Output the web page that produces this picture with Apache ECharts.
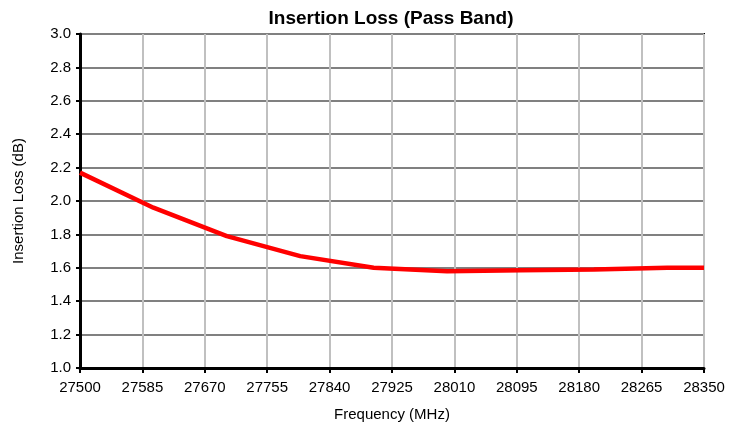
<!DOCTYPE html>
<html>
<head>
<meta charset="utf-8">
<script src="https://cdn.jsdelivr.net/npm/echarts@6/dist/echarts.min.js"></script>
<style>html,body{margin:0;padding:0;background:#fff}#c{width:740px;height:430px}</style>
</head>
<body>
<div id="c"></div>
<script>
var titleText = 'Insertion Loss (Pass Band)';
var xName = 'Frequency (MHz)';
var yName = 'Insertion Loss (dB)';
var freqStart = 27500;
var freqStep = 85;
var freqEnd = 28350;
var frequencies = [27500, 27600, 27700, 27800, 27900, 28000, 28100, 28200, 28300, 28350];
var insertionLoss = [2.17, 1.96, 1.79, 1.67, 1.60, 1.58, 1.585, 1.59, 1.60, 1.60];

var seriesData = frequencies.map(function (f, i) { return [f - freqStart, insertionLoss[i]]; });
var FONT = '"Liberation Sans", Arial, sans-serif';

var chart = echarts.init(document.getElementById('c'), null, {renderer: 'canvas'});
chart.setOption({
  animation: false,
  backgroundColor: '#fff',
  title: {
    text: titleText,
    left: 386, top: 4, textAlign: 'center',
    textStyle: {fontFamily: FONT, fontSize: 19, fontWeight: 'bold', color: '#000'}
  },
  grid: {
    left: 80, right: 36, top: 34, bottom: 62,
    show: true, borderColor: '#000', borderWidth: 2, backgroundColor: 'transparent'
  },
  xAxis: {
    type: 'value', min: 0, max: freqEnd - freqStart, interval: freqStep,
    name: xName, nameLocation: 'middle', nameGap: 39,
    nameTextStyle: {fontFamily: FONT, fontSize: 15, color: '#000'},
    axisLine: {show: true, onZero: false, lineStyle: {color: '#000', width: 3}},
    axisTick: {show: true, length: 5, lineStyle: {color: '#000', width: 2}},
    axisLabel: {fontFamily: FONT, fontSize: 15, color: '#000', margin: 12,
      formatter: function (v) { return String(v + freqStart); }},
    splitLine: {show: true, lineStyle: {color: '#c0c0c0', width: 2}}
  },
  yAxis: {
    type: 'value', min: 1.0, max: 3.0, interval: 0.2,
    name: yName, nameLocation: 'middle', nameGap: 54, nameRotate: 90,
    nameTextStyle: {fontFamily: FONT, fontSize: 15, color: '#000'},
    axisLine: {show: true, onZero: false, lineStyle: {color: '#000', width: 3}},
    axisTick: {show: true, length: 4, lineStyle: {color: '#000', width: 2}},
    axisLabel: {fontFamily: FONT, fontSize: 15, color: '#000', margin: 9,
      formatter: function (v) { return v.toFixed(1); }},
    splitLine: {show: true, lineStyle: {color: '#808080', width: 2}}
  },
  series: [{
    type: 'line', data: seriesData, showSymbol: false, smooth: false,
    lineStyle: {color: '#ff0000', width: 4.5}, z: 5
  }]
});
</script>
</body>
</html>
